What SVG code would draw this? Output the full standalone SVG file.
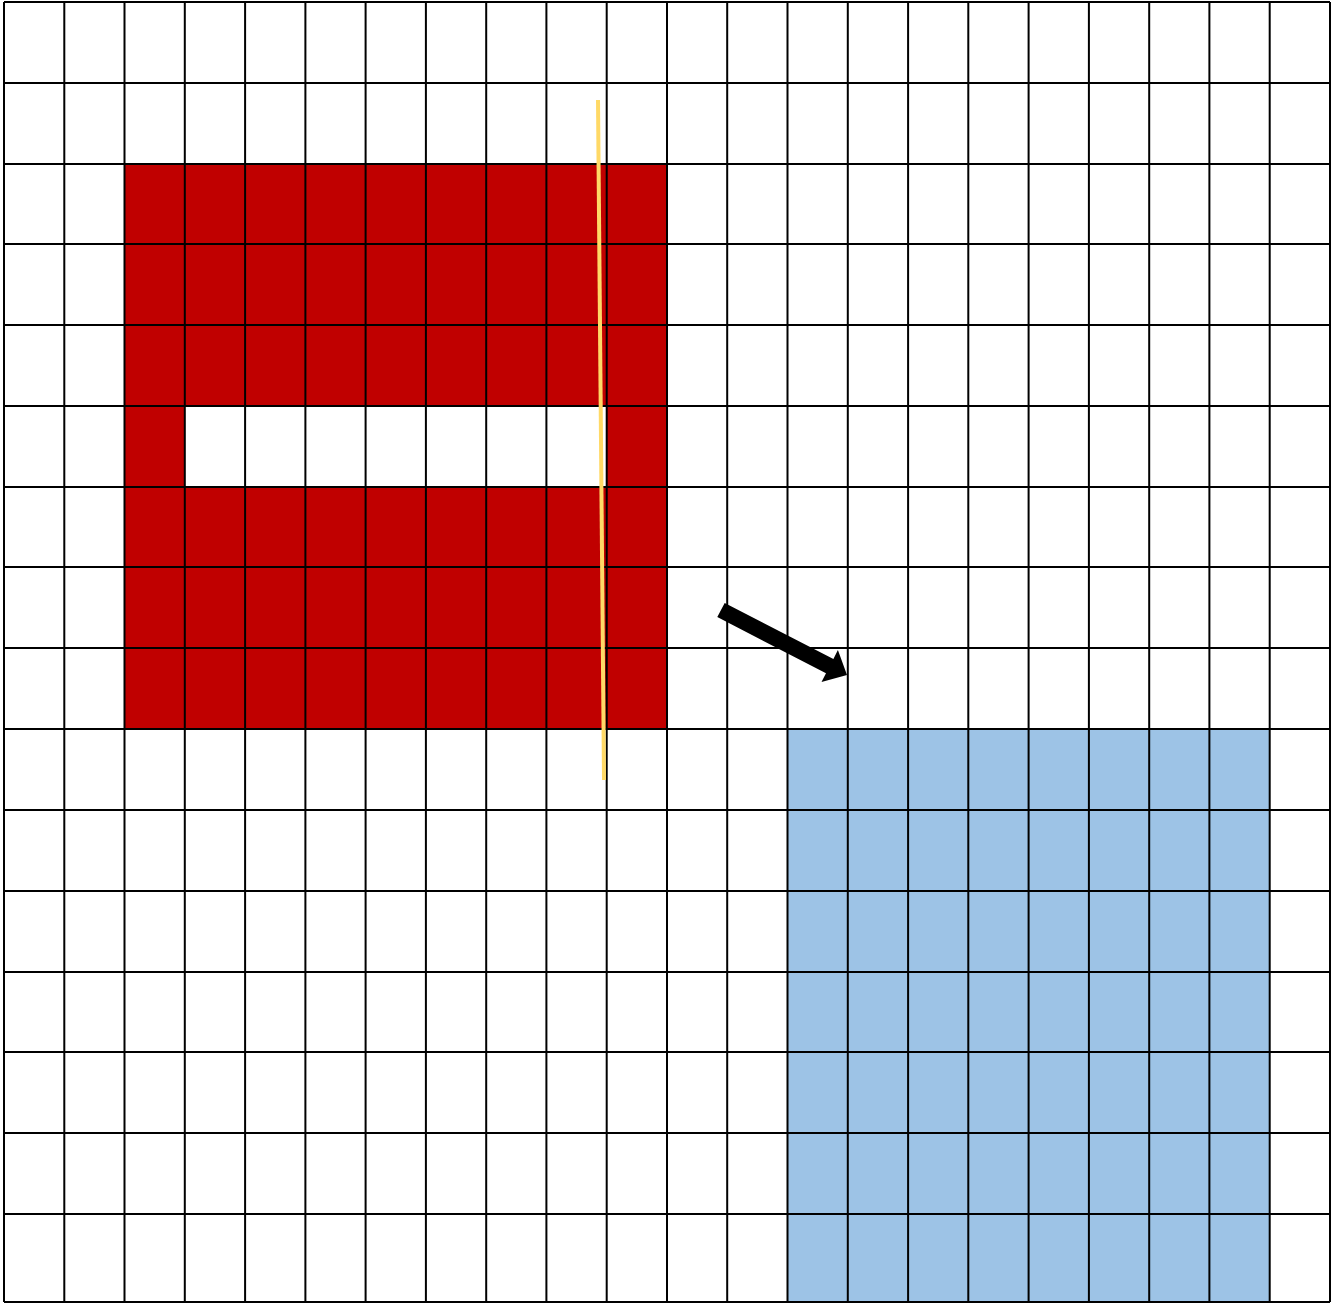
<svg xmlns="http://www.w3.org/2000/svg" width="1331" height="1304" viewBox="0 0 1331 1304">
<style>
.grid{stroke:#000;stroke-width:2;fill:none}
.red{fill:#C00000}
.blue{fill:#9DC3E6}
</style>
<rect width="1331" height="1304" fill="#fff"/>
<g id="red-shape">
<path class="red" fill-rule="evenodd" d="M124.5,164 H667 V729 H124.5 Z M184.8,406 H606.7 V487 H184.8 Z"/>
</g>
<g id="blue-shape">
<rect class="blue" x="787.5" y="729" width="482.2" height="573"/>
</g>
<g id="grid">
<path class="grid" d="M4,2 V1302 M64.3,2 V1302 M124.5,2 V1302 M184.8,2 V1302 M245.1,2 V1302 M305.4,2 V1302 M365.6,2 V1302 M425.9,2 V1302 M486.2,2 V1302 M546.4,2 V1302 M606.7,2 V1302 M667,2 V1302 M727.2,2 V1302 M787.5,2 V1302 M847.8,2 V1302 M908.1,2 V1302 M968.3,2 V1302 M1028.6,2 V1302 M1088.9,2 V1302 M1149.2,2 V1302 M1209.4,2 V1302 M1269.7,2 V1302 M1330,2 V1302"/>
<path class="grid" d="M4,2 H1330 M4,83 H1330 M4,164 H1330 M4,244 H1330 M4,325 H1330 M4,406 H1330 M4,487 H1330 M4,567 H1330 M4,648 H1330 M4,729 H1330 M4,810 H1330 M4,891 H1330 M4,972 H1330 M4,1052 H1330 M4,1133 H1330 M4,1214 H1330 M4,1302 H1330"/>
</g>
<g id="connectors">
<line x1="598" y1="100" x2="604" y2="780" stroke="#FFD966" stroke-width="4"/>
<polygon points="724.7,602.9 833.4,659 837.9,650.1 847,675 821.5,682.1 826,673.2 717.3,617.1" fill="#000"/>
</g>
</svg>
